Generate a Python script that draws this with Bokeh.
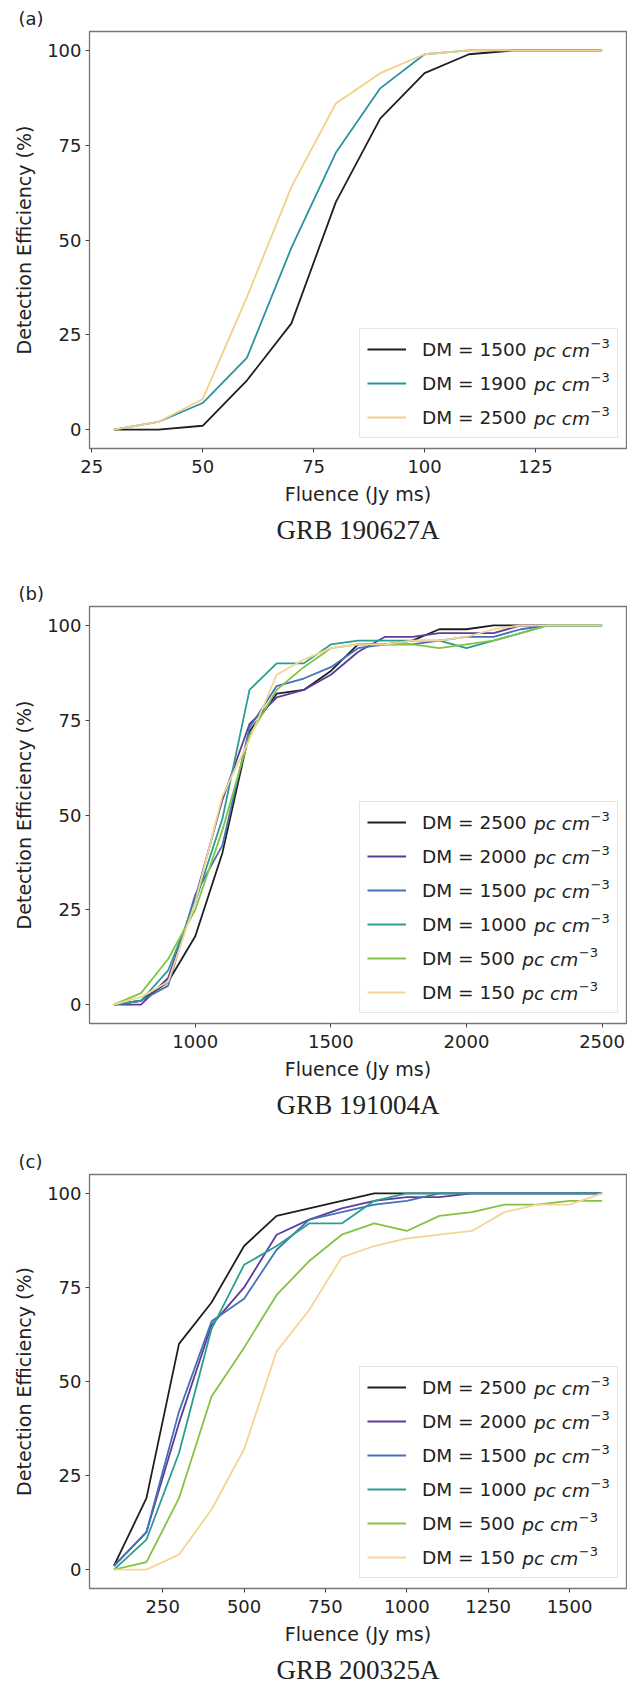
from bokeh.plotting import figure
from bokeh.layouts import column
from bokeh.models import Range1d, FixedTicker, Legend, LegendItem, Label, Title
from bokeh.embed import file_html
from bokeh.resources import INLINE

# ---------------- data ----------------
# Panel (a) GRB 190627A
fluence_a = [30, 40, 50, 60, 70, 80, 90, 100, 110, 120, 130, 140]
eff_a_1500 = [0, 0, 1, 13, 28, 60, 82, 94, 99, 100, 100, 100]
eff_a_1900 = [0, 2, 7, 19, 48, 73, 90, 99, 100, 100, 100, 100]
eff_a_2500 = [0, 2, 8, 35, 64, 86, 94, 99, 100, 100, 100, 100]
dm_a = [1500, 1900, 2500]

# Panel (b) GRB 191004A
fluence_b = [700, 800, 900, 1000, 1100, 1200, 1300, 1400, 1500, 1600,
             1700, 1800, 1900, 2000, 2100, 2200, 2300, 2400, 2500]
eff_b_2500 = [0, 1, 6, 18, 40, 72, 82, 83, 88, 95, 95, 96, 99, 99, 100, 100, 100, 100, 100]
eff_b_2000 = [0, 0, 7, 28, 54, 74, 81, 83, 87, 93, 97, 97, 98, 98, 98, 100, 100, 100, 100]
eff_b_1500 = [0, 1, 5, 29, 42, 73, 84, 86, 89, 94, 95, 95, 96, 97, 97, 99, 100, 100, 100]
eff_b_1000 = [0, 1, 9, 27, 49, 83, 90, 90, 95, 96, 96, 96, 96, 94, 96, 98, 100, 100, 100]
eff_b_500 = [0, 3, 12, 25, 46, 71, 83, 89, 94, 95, 95, 95, 94, 95, 96, 98, 100, 100, 100]
eff_b_150 = [0, 2, 6, 27, 55, 70, 87, 91, 94, 95, 95, 96, 96, 97, 99, 100, 100, 100, 100]
dm_bc = [2500, 2000, 1500, 1000, 500, 150]

# Panel (c) GRB 200325A
fluence_c = [100, 200, 300, 400, 500, 600, 700, 800, 900, 1000,
             1100, 1200, 1300, 1400, 1500, 1600]
eff_c_2500 = [1, 19, 60, 71, 86, 94, 96, 98, 100, 100, 100, 100, 100, 100, 100, 100]
eff_c_2000 = [1, 10, 39, 65, 75, 89, 93, 96, 98, 99, 99, 100, 100, 100, 100, 100]
eff_c_1500 = [1, 10, 42, 66, 72, 85, 93, 95, 97, 98, 100, 100, 100, 100, 100, 100]
eff_c_1000 = [0, 8, 31, 64, 81, 86, 92, 92, 98, 100, 100, 100, 100, 100, 100, 100]
eff_c_500 = [0, 2, 19, 46, 59, 73, 82, 89, 92, 90, 94, 95, 97, 97, 98, 98]
eff_c_150 = [0, 0, 4, 16, 32, 58, 69, 83, 86, 88, 89, 90, 95, 97, 97, 100]

y_ticks = [0, 25, 50, 75, 100]
x_ticks_a = [25, 50, 75, 100, 125]
x_ticks_b = [1000, 1500, 2000, 2500]
x_ticks_c = [250, 500, 750, 1000, 1250, 1500]

# ---------------- styling ----------------
colors_a = ["#1f1f1f", "#2a93a3", "#f3d08a"]
colors_bc = ["#1f1f1f", "#5e3c99", "#4272b8", "#2a9e91", "#84c341", "#f5d593"]
TXT = "#222222"
SANS = "DejaVu Sans"
LEG_FS = 18.5

# DejaVu Sans advance widths (em) for legend layout
W = {"D": 0.770, "M": 0.863, " ": 0.318, "=": 0.838}


def text_w(s, fs):
    return sum(W.get(ch, 0.636) for ch in s) * fs


def make_panel(tag, caption, x, series, dms, colors, x_lo, x_hi, x_ticks, height,
               cap_offset):
    p = figure(width=627, height=height, output_backend="svg", toolbar_location=None,
               x_range=Range1d(x_lo, x_hi), y_range=Range1d(-5, 105),
               min_border_left=89, min_border_right=1, min_border_top=31,
               min_border_bottom=height - 31 - 417)
    p.grid.visible = False
    p.outline_line_color = "#777777"
    p.outline_line_width = 1.3
    p.background_fill_color = "white"
    p.border_fill_color = "white"

    for ax in (p.xaxis[0], p.yaxis[0]):
        ax.axis_line_color = None
        ax.major_tick_out = 4
        ax.major_tick_in = 0
        ax.minor_tick_out = 0
        ax.minor_tick_in = 0
        ax.major_tick_line_color = "#444444"
        ax.major_label_text_font = SANS
        ax.major_label_text_font_size = "18px"
        ax.major_label_text_color = TXT
        ax.axis_label_text_font = SANS
        ax.axis_label_text_font_size = "19px"
        ax.axis_label_text_font_style = "normal"
        ax.axis_label_text_color = TXT
    p.xaxis.ticker = FixedTicker(ticks=x_ticks)
    p.yaxis.ticker = FixedTicker(ticks=y_ticks)
    p.xaxis.axis_label = "Fluence (Jy ms)"
    p.yaxis.axis_label = "Detection Efficiency (%)"
    p.xaxis.major_label_standoff = 7
    p.yaxis.major_label_standoff = 4
    p.xaxis.axis_label_standoff = 7
    p.yaxis.axis_label_standoff = 9

    items = []
    for ys, dm, c in zip(series, dms, colors):
        r = p.line(x, ys, line_color=c, line_width=1.8)
        items.append(LegendItem(label=f"DM = {dm}", renderers=[r]))

    pad, gh, sp = 7, 26, 8
    lx, ly = 270, 10
    leg = Legend(items=items, location=(lx, ly), padding=pad, spacing=sp, margin=0,
                 glyph_width=39, glyph_height=gh, label_height=gh, label_width=188,
                 label_standoff=16,
                 label_text_font=SANS, label_text_font_size=f"{LEG_FS}px",
                 label_text_color=TXT,
                 border_line_color="#cccccc", border_line_width=1,
                 background_fill_color="white", background_fill_alpha=0.0)
    p.add_layout(leg, "center")

    n = len(dms)
    box_h = 2 * pad + n * gh + (n - 1) * sp
    top = ly + box_h
    text_x0 = lx + pad + 39 + 16
    for i, dm in enumerate(dms):
        yc = top - pad - gh / 2 - i * (gh + sp)
        ux = text_x0 + text_w(f"DM = {dm}", LEG_FS) + 8
        p.add_layout(Label(x=ux, y=yc, x_units="screen", y_units="screen",
                           text="pc cm", text_font=SANS, text_font_style="italic",
                           text_font_size=f"{LEG_FS}px", text_color=TXT,
                           text_baseline="middle", text_align="left",
                           level="overlay"))
        p.add_layout(Label(x=ux + 56.5, y=yc + 7, x_units="screen", y_units="screen",
                           text="\u22123", text_font=SANS,
                           text_font_size="13px", text_color=TXT,
                           text_baseline="middle", text_align="left",
                           level="overlay"))

    p.add_layout(Title(text=tag, align="left", offset=-71, text_font=SANS,
                       text_font_size="18px", text_font_style="normal",
                       text_color=TXT, standoff=6), "above")
    p.add_layout(Title(text=caption, align="center", offset=cap_offset,
                       text_font="Liberation Serif", text_font_size="27px",
                       text_font_style="normal", text_color=TXT), "below")
    return p


pa = make_panel("(a)", "GRB 190627A", fluence_a,
                [eff_a_1500, eff_a_1900, eff_a_2500], dm_a, colors_a,
                24.5, 145.5, x_ticks_a, 575, 8)
pb = make_panel("(b)", "GRB 191004A", fluence_b,
                [eff_b_2500, eff_b_2000, eff_b_1500, eff_b_1000, eff_b_500, eff_b_150],
                dm_bc, colors_bc, 610, 2590, x_ticks_b, 568, 8)
pc = make_panel("(c)", "GRB 200325A", fluence_c,
                [eff_c_2500, eff_c_2000, eff_c_1500, eff_c_1000, eff_c_500, eff_c_150],
                dm_bc, colors_bc, 25, 1675, x_ticks_c, 546, 8)

layout = column(pa, pb, pc, spacing=0)
open("out.html", "w").write(file_html(layout, INLINE))
